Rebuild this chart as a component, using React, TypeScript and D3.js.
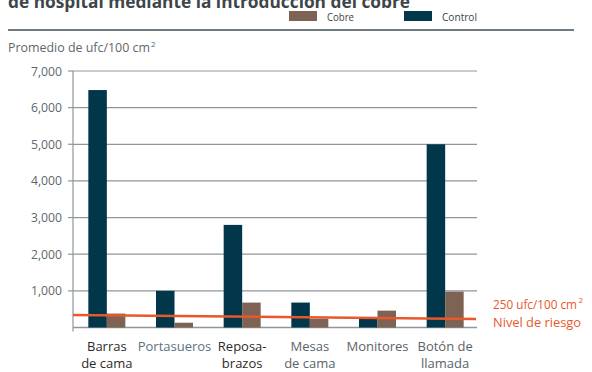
import React from "react";
import * as d3 from "d3";

// Average bacterial load per surface (ufc/100 cm²)
const categories: string[][] = [
  ["Barras", "de cama"],
  ["Portasueros"],
  ["Reposa-", "brazos"],
  ["Mesas", "de cama"],
  ["Monitores"],
  ["Botón de", "llamada"],
];
const controlValues = [6480, 1000, 2800, 680, 260, 5000];
const cobreValues = [380, 130, 680, 240, 460, 980];
const yTicks = [1000, 2000, 3000, 4000, 5000, 6000, 7000];
const riskLine = [340, 233];
const seriesNames = ["Cobre", "Control"];

const W = 592;
const H = 372;
const COL_CONTROL = "#02364a";
const COL_COBRE = "#7e6253";
const COL_RISK = "#e8582a";
const COL_GRID = "#8d979c";
const COL_TEXT = "#5d676d";
const FONT = "'Open Sans', 'Noto Sans', sans-serif";
const labelColors = ["#2b2b2b", "#5a7282", "#2b2b2b", "#5a6369", "#5a6369", "#5a6369"];

export default function App() {
  const plotLeft = 73;
  const gridRight = 477;
  const y = d3.scaleLinear().domain([0, 7000]).range([327.5, 71]);
  const x = d3
    .scaleBand<number>()
    .domain(categories.map((_, i) => i))
    .range([73, 479])
    .paddingInner(0)
    .paddingOuter(0);
  const barW = 18.5;
  const fmt = d3.format(",");

  return (
    <svg
      width={W}
      height={H}
      style={{ position: "absolute", left: 0, top: 0, background: "#fff" }}
      fontFamily={FONT}
    >
      {/* clipped heading */}
      <text x={8} y={7.5} fontSize={17} fontWeight={700} fill="#3d4549" textLength={402} lengthAdjust="spacingAndGlyphs">
        de hospital mediante la introducción del cobre
      </text>

      {/* legend */}
      {seriesNames.map((name, i) => {
        const lx = i === 0 ? 289 : 404;
        return (
          <g key={name}>
            <rect x={lx} y={11} width={28} height={10} fill={i === 0 ? COL_COBRE : COL_CONTROL} />
            <text x={lx + 38} y={20.5} fontSize={11.5} fill="#3d4549" textLength={name === "Cobre" ? 27 : 35} lengthAdjust="spacingAndGlyphs">
              {name}
            </text>
          </g>
        );
      })}
      <line x1={8} x2={574} y1={30} y2={30} stroke="#6f7b81" strokeWidth={2} />

      {/* y axis title */}
      <text x={8} y={52} fontSize={12.5} fill={COL_TEXT}>
        <tspan textLength={142} lengthAdjust="spacingAndGlyphs">Promedio de ufc/100 cm</tspan>
        <tspan x={151} dy={-5} fontSize={8}>2</tspan>
      </text>

      {/* gridlines and ticks */}
      {yTicks.map((t) => (
        <g key={t}>
          <line x1={plotLeft} x2={gridRight} y1={y(t)} y2={y(t)} stroke={COL_GRID} strokeWidth={1.2} />
          <line x1={68} x2={plotLeft} y1={y(t)} y2={y(t)} stroke={COL_GRID} strokeWidth={1.2} />
          <text x={62} y={y(t) + 4.5} fontSize={12.5} textAnchor="end" fill={COL_TEXT} textLength={31} lengthAdjust="spacingAndGlyphs">
            {fmt(t)}
          </text>
        </g>
      ))}
      <line x1={plotLeft} x2={gridRight} y1={y(0)} y2={y(0)} stroke={COL_GRID} strokeWidth={1.5} />
      <line x1={plotLeft} x2={plotLeft} y1={y(7000)} y2={y(0) + 4} stroke={COL_GRID} strokeWidth={1.2} />

      {/* bars */}
      {categories.map((_, i) => {
        const c = (x(i) as number) + x.bandwidth() / 2;
        return (
          <g key={i}>
            <rect x={c - barW} y={y(controlValues[i])} width={barW} height={y(0) - y(controlValues[i])} fill={COL_CONTROL} />
            <rect x={c} y={y(cobreValues[i])} width={barW} height={y(0) - y(cobreValues[i])} fill={COL_COBRE} />
          </g>
        );
      })}

      {/* risk level line */}
      <line x1={plotLeft} x2={476} y1={y(riskLine[0])} y2={y(riskLine[1])} stroke={COL_RISK} strokeWidth={2.6} />
      <text x={493} y={309} fontSize={13} fill={COL_RISK}>
        <tspan textLength={84} lengthAdjust="spacingAndGlyphs">250 ufc/100 cm</tspan>
        <tspan x={578.5} dy={-6} fontSize={8}>2</tspan>
      </text>
      <text x={493} y={327} fontSize={13} fill={COL_RISK} textLength={88} lengthAdjust="spacingAndGlyphs">Nivel de riesgo</text>

      {/* category labels */}
      {categories.map((lines, i) => {
        const c = (x(i) as number) + x.bandwidth() / 2;
        return (
          <text key={i} x={c} y={351} fontSize={13} textAnchor="middle" fill={labelColors[i]}>
            {lines.map((l, j) => (
              <tspan key={j} x={c} dy={j === 0 ? 0 : 17}>
                {l}
              </tspan>
            ))}
          </text>
        );
      })}
    </svg>
  );
}
